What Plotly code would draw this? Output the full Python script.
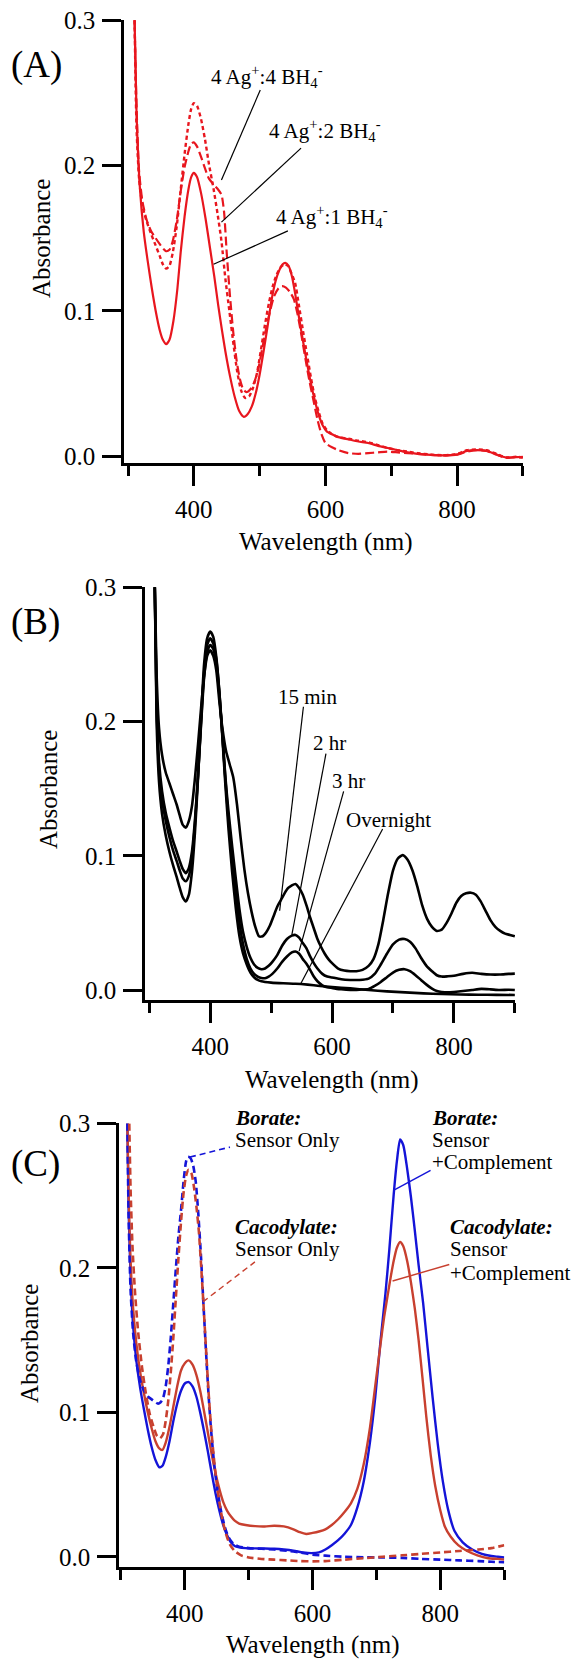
import plotly.graph_objects as go

# ---------------- data ----------------
# Panel A : silver / borohydride ratios (red)
A1_wl = [310, 313, 318, 324, 330, 336, 342, 348, 353, 358, 363, 369, 375, 380, 386, 392, 396, 400, 405, 411,
         418, 425, 431, 437, 443, 448, 455, 462, 469, 476, 482, 488, 494, 500, 506, 512, 518, 524, 530, 535,
         539, 544, 549, 554, 560, 566, 572, 578, 584, 590, 596, 602, 610, 620, 635, 650, 665, 680, 695, 710,
         725, 740, 760, 780, 800, 815, 830, 845, 860, 875, 890, 900]
A1_abs = [0.300, 0.235, 0.185, 0.154, 0.134, 0.116, 0.100, 0.087, 0.080, 0.077, 0.080, 0.093, 0.115, 0.140,
          0.165, 0.184, 0.192, 0.195, 0.192, 0.181, 0.163, 0.142, 0.124, 0.104, 0.086, 0.072, 0.055, 0.041,
          0.031, 0.027, 0.029, 0.034, 0.043, 0.056, 0.072, 0.089, 0.107, 0.120, 0.128, 0.132, 0.133, 0.131,
          0.124, 0.112, 0.095, 0.079, 0.064, 0.050, 0.038, 0.028, 0.021, 0.017, 0.015, 0.013, 0.0115, 0.010,
          0.009, 0.007, 0.0055, 0.004, 0.0025, 0.0015, 0.0008, 0.0005, 0.001, 0.0035, 0.004, 0.0035, 0.001,
          -0.001, -0.0008, -0.0005]

A2_wl = [310, 313, 317, 322, 328, 335, 342, 348, 353, 358, 363, 368, 374, 380, 386, 392, 396, 400, 405, 411,
         417, 423, 430, 436, 442, 448, 454, 460, 466, 472, 478, 484, 490, 496, 502, 508, 514, 520, 526, 532,
         538, 543, 549, 554, 560, 566, 572, 578, 584, 590, 596, 602, 610, 620, 635, 650, 665, 680, 695, 710,
         725, 740, 760, 780, 800, 815, 830, 845, 860, 875, 890, 900]
A2_abs = [0.300, 0.225, 0.190, 0.172, 0.162, 0.153, 0.145, 0.138, 0.132, 0.129, 0.131, 0.140, 0.158, 0.183,
          0.208, 0.229, 0.239, 0.243, 0.241, 0.232, 0.218, 0.201, 0.184, 0.167, 0.148, 0.122, 0.100, 0.078,
          0.058, 0.045, 0.040, 0.041, 0.047, 0.057, 0.073, 0.090, 0.105, 0.117, 0.125, 0.130, 0.132, 0.131,
          0.125, 0.119, 0.103, 0.086, 0.070, 0.054, 0.040, 0.030, 0.022, 0.018, 0.015, 0.013, 0.012, 0.0105,
          0.0095, 0.0075, 0.0055, 0.004, 0.003, 0.002, 0.001, 0.0005, 0.0015, 0.004, 0.0045, 0.004, 0.0015,
          -0.001, -0.0005, -0.001]

A4_wl = [310, 313, 317, 322, 328, 335, 342, 348, 353, 358, 363, 368, 374, 380, 386, 392, 396, 400, 405, 411,
         417, 423, 430, 436, 442, 446, 450, 455, 460, 465, 470, 475, 480, 486, 492, 498, 504, 510, 516, 522,
         528, 534, 540, 546, 552, 558, 564, 570, 576, 582, 588, 594, 600, 610, 620, 635, 650, 665, 680, 695,
         710, 725, 740, 760, 780, 800, 815, 830, 845, 860, 875, 890, 900]
A4_abs = [0.300, 0.240, 0.195, 0.175, 0.163, 0.155, 0.150, 0.146, 0.143, 0.141, 0.142, 0.148, 0.162, 0.182,
          0.199, 0.210, 0.215, 0.216, 0.213, 0.206, 0.198, 0.191, 0.187, 0.184, 0.180, 0.168, 0.140, 0.110,
          0.085, 0.066, 0.053, 0.046, 0.044, 0.046, 0.051, 0.060, 0.074, 0.088, 0.100, 0.110, 0.115, 0.117,
          0.116, 0.113, 0.108, 0.097, 0.082, 0.066, 0.051, 0.038, 0.025, 0.015, 0.009, 0.006, 0.004, 0.002,
          0.0015, 0.002, 0.0025, 0.003, 0.0025, 0.002, 0.0015, 0.0008, 0.0005, 0.001, 0.003, 0.004, 0.0035,
          0.001, -0.0012, -0.0008, -0.001]

# Panel B : time course (black)
B15_wl = [309, 312, 316, 321, 327, 333, 339, 345, 350, 355, 360, 365, 370, 375, 380, 385, 390, 395, 400, 405,
          410, 415, 420, 426, 432, 438, 444, 450, 456, 462, 468, 474, 480, 486, 492, 498, 504, 510, 516, 522,
          528, 534, 540, 546, 552, 558, 564, 570, 576, 582, 588, 594, 600, 610, 620, 630, 640, 650, 660, 668,
          676, 684, 692, 700, 708, 716, 724, 732, 740, 748, 756, 764, 772, 780, 788, 796, 804, 812, 820, 828,
          836, 844, 852, 860, 868, 876, 884, 892, 900]
B15_abs = [0.300, 0.235, 0.195, 0.175, 0.162, 0.154, 0.146, 0.138, 0.130, 0.123, 0.121, 0.126, 0.137, 0.158,
           0.183, 0.210, 0.234, 0.249, 0.253, 0.249, 0.238, 0.215, 0.195, 0.178, 0.168, 0.158, 0.138, 0.113,
           0.090, 0.072, 0.058, 0.047, 0.040, 0.040, 0.043, 0.048, 0.055, 0.062, 0.067, 0.072, 0.076, 0.078,
           0.079, 0.076, 0.071, 0.063, 0.054, 0.046, 0.038, 0.032, 0.027, 0.023, 0.020, 0.016, 0.0145, 0.014,
           0.014, 0.015, 0.018, 0.023, 0.034, 0.052, 0.072, 0.089, 0.098, 0.1005, 0.097, 0.089, 0.077, 0.063,
           0.053, 0.047, 0.044, 0.045, 0.050, 0.057, 0.065, 0.070, 0.072, 0.0725, 0.071, 0.066, 0.059, 0.052,
           0.047, 0.044, 0.042, 0.041, 0.040]

B2_wl = [309, 312, 316, 321, 327, 333, 339, 345, 350, 355, 360, 365, 370, 375, 380, 385, 390, 395, 400, 405,
         410, 415, 420, 425, 430, 436, 442, 448, 454, 460, 466, 472, 478, 484, 490, 496, 502, 510, 518, 526,
         534, 540, 546, 552, 558, 564, 570, 576, 584, 592, 600, 615, 630, 645, 660, 670, 680, 690, 700, 710,
         719, 728, 737, 746, 755, 764, 772, 780, 790, 800, 815, 830, 845, 860, 875, 890, 900]
B2_abs = [0.300, 0.215, 0.170, 0.148, 0.132, 0.121, 0.111, 0.103, 0.096, 0.090, 0.087, 0.091, 0.103, 0.127,
          0.160, 0.198, 0.233, 0.252, 0.257, 0.254, 0.243, 0.220, 0.190, 0.158, 0.133, 0.107, 0.083, 0.060,
          0.043, 0.032, 0.024, 0.019, 0.0165, 0.0155, 0.016, 0.018, 0.021, 0.026, 0.033, 0.038, 0.0405, 0.041,
          0.039, 0.035, 0.031, 0.025, 0.020, 0.016, 0.012, 0.010, 0.0093, 0.008, 0.0075, 0.0075, 0.0085, 0.012,
          0.019, 0.027, 0.034, 0.0375, 0.038, 0.036, 0.031, 0.024, 0.018, 0.014, 0.011, 0.010, 0.0102, 0.0106,
          0.012, 0.0128, 0.012, 0.0115, 0.0115, 0.012, 0.0122]

B3_wl = [309, 312, 316, 321, 327, 333, 339, 345, 350, 355, 360, 365, 370, 375, 380, 385, 390, 395, 400, 405,
         410, 415, 420, 425, 430, 436, 442, 448, 454, 460, 466, 472, 478, 484, 490, 496, 502, 510, 518, 526,
         534, 540, 546, 552, 558, 564, 570, 576, 584, 592, 600, 615, 630, 645, 660, 670, 680, 690, 700, 710,
         719, 728, 737, 746, 755, 764, 772, 780, 790, 800, 815, 830, 845, 860, 875, 890, 900]
B3_abs = [0.300, 0.210, 0.165, 0.142, 0.126, 0.114, 0.104, 0.096, 0.089, 0.083, 0.081, 0.085, 0.098, 0.124,
          0.160, 0.200, 0.237, 0.257, 0.262, 0.258, 0.246, 0.222, 0.190, 0.156, 0.127, 0.098, 0.072, 0.050,
          0.034, 0.023, 0.016, 0.012, 0.010, 0.009, 0.0088, 0.010, 0.012, 0.016, 0.021, 0.025, 0.028, 0.0287,
          0.027, 0.023, 0.0195, 0.015, 0.010, 0.0065, 0.0035, 0.002, 0.0015, 0.0005, 0.0, 0.0003, 0.0008, 0.003,
          0.006, 0.0095, 0.013, 0.015, 0.0155, 0.014, 0.011, 0.0075, 0.004, 0.001, -0.0008, -0.0015, -0.0018,
          -0.0015, -0.0008, 0.0, 0.0008, 0.0005, 0.0, 0.0002, 0.0]

BN_wl = [309, 312, 316, 321, 327, 333, 339, 345, 350, 355, 360, 365, 370, 375, 380, 385, 390, 395, 400, 405,
         410, 415, 420, 425, 430, 436, 442, 448, 454, 460, 466, 472, 478, 484, 490, 500, 520, 540, 560, 580,
         600, 630, 660, 690, 720, 750, 780, 810, 840, 870, 900]
BN_abs = [0.300, 0.200, 0.155, 0.131, 0.115, 0.103, 0.093, 0.084, 0.076, 0.069, 0.066, 0.071, 0.088, 0.118,
          0.158, 0.203, 0.243, 0.262, 0.267, 0.263, 0.248, 0.222, 0.188, 0.152, 0.120, 0.088, 0.061, 0.040,
          0.027, 0.019, 0.013, 0.0095, 0.0075, 0.0065, 0.006, 0.0055, 0.005, 0.0047, 0.004, 0.003, 0.0022,
          0.0012, 0.0, -0.001, -0.0018, -0.0025, -0.003, -0.0033, -0.0035, -0.0036, -0.0037]

# Panel C : buffers (blue = borate, red = cacodylate)
CBs_wl = [310, 312, 315, 319, 324, 330, 336, 342, 348, 354, 360, 365, 370, 376, 382, 388, 394, 400, 406, 412,
          418, 424, 430, 436, 442, 448, 454, 460, 466, 472, 478, 485, 495, 510, 525, 540, 555, 570, 585, 598,
          610, 620, 630, 640, 650, 660, 670, 680, 690, 698, 706, 714, 720, 727, 732, 737, 742, 748, 754, 760,
          766, 773, 780, 788, 796, 804, 812, 822, 835, 850, 865, 880, 890, 900]
CBs_abs = [0.300, 0.240, 0.195, 0.160, 0.136, 0.117, 0.102, 0.088, 0.076, 0.067, 0.062, 0.063, 0.069, 0.080,
           0.094, 0.106, 0.115, 0.120, 0.121, 0.118, 0.111, 0.100, 0.087, 0.073, 0.058, 0.044, 0.032, 0.022,
           0.015, 0.010, 0.0075, 0.0065, 0.006, 0.0058, 0.0057, 0.0055, 0.005, 0.0042, 0.003, 0.0025, 0.003,
           0.005, 0.008, 0.0115, 0.016, 0.022, 0.034, 0.052, 0.080, 0.110, 0.148, 0.182, 0.212, 0.251, 0.274,
           0.289, 0.285, 0.269, 0.249, 0.226, 0.202, 0.176, 0.145, 0.110, 0.078, 0.052, 0.033, 0.018, 0.010,
           0.005, 0.002, 0.0005, 0.0, -0.0005]

CCs_wl = [310, 312, 315, 319, 324, 330, 336, 342, 348, 354, 360, 365, 370, 376, 382, 388, 394, 400, 406, 412,
          418, 424, 430, 436, 442, 448, 454, 460, 466, 472, 478, 485, 495, 510, 525, 540, 555, 570, 580, 590,
          600, 610, 620, 630, 640, 650, 660, 670, 680, 690, 698, 706, 712, 716, 722, 727, 732, 737, 742, 748,
          754, 760, 766, 772, 778, 785, 792, 800, 807, 816, 828, 842, 858, 875, 890, 900]
CCs_abs = [0.300, 0.250, 0.205, 0.172, 0.148, 0.128, 0.113, 0.100, 0.089, 0.080, 0.075, 0.074, 0.079, 0.090,
           0.104, 0.118, 0.129, 0.134, 0.136, 0.133, 0.126, 0.115, 0.101, 0.086, 0.071, 0.058, 0.047, 0.038,
           0.032, 0.028, 0.025, 0.023, 0.022, 0.0212, 0.021, 0.0215, 0.021, 0.019, 0.017, 0.0158, 0.0165,
           0.0175, 0.019, 0.022, 0.026, 0.031, 0.037, 0.047, 0.064, 0.090, 0.118, 0.146, 0.166, 0.177, 0.193,
           0.205, 0.214, 0.218, 0.215, 0.205, 0.190, 0.172, 0.150, 0.124, 0.097, 0.070, 0.049, 0.032, 0.021,
           0.014, 0.008, 0.004, 0.001, -0.001, -0.0015, -0.002]

CBo_wl = [310, 312, 315, 319, 324, 330, 336, 342, 348, 354, 358, 362, 366, 370, 374, 378, 382, 386, 390, 394,
          398, 402, 405, 409, 413, 417, 421, 425, 429, 433, 437, 441, 446, 451, 457, 463, 469, 476, 485, 500,
          520, 540, 560, 580, 600, 620, 650, 680, 710, 740, 770, 800, 830, 860, 880, 900]
CBo_abs = [0.300, 0.235, 0.185, 0.155, 0.135, 0.122, 0.115, 0.111, 0.109, 0.107, 0.106, 0.107, 0.110, 0.118,
           0.132, 0.152, 0.176, 0.200, 0.222, 0.240, 0.260, 0.274, 0.277, 0.276, 0.271, 0.260, 0.238, 0.210,
           0.176, 0.143, 0.113, 0.088, 0.064, 0.046, 0.031, 0.020, 0.013, 0.009, 0.007, 0.006, 0.0055, 0.005,
           0.0042, 0.003, 0.0015, 0.0008, 0.0, -0.0003, -0.0005, -0.0008, -0.0015, -0.002, -0.0025, -0.003,
           -0.0035, -0.0038]

CCo_wl = [313, 315, 318, 322, 327, 333, 339, 345, 351, 356, 361, 366, 370, 374, 378, 382, 386, 390, 394, 398,
          402, 406, 410, 414, 418, 422, 425, 429, 433, 437, 441, 446, 451, 457, 463, 470, 478, 488, 500, 520,
          540, 560, 580, 600, 620, 650, 680, 710, 740, 770, 800, 830, 860, 880, 900]
CCo_abs = [0.300, 0.255, 0.215, 0.183, 0.155, 0.131, 0.113, 0.099, 0.090, 0.084, 0.082, 0.085, 0.094, 0.108,
           0.128, 0.152, 0.180, 0.207, 0.232, 0.252, 0.264, 0.268, 0.266, 0.257, 0.243, 0.225, 0.205, 0.176,
           0.145, 0.115, 0.090, 0.066, 0.047, 0.030, 0.018, 0.009, 0.004, 0.001, -0.0005, -0.0015, -0.002,
           -0.0025, -0.003, -0.0032, -0.003, -0.002, -0.001, 0.0, 0.001, 0.002, 0.003, 0.004, 0.005, 0.006,
           0.008]

# tick labels
x_major = [400, 600, 800]
x_major_text = ["400", "600", "800"]
y_ticks = [0.0, 0.1, 0.2, 0.3]
y_tick_text = ["0.0", "0.1", "0.2", "0.3"]

# annotation texts (label, x, y) in data units of each panel
A_labels = [("4 Ag<sup>+</sup>:4 BH<sub>4</sub><sup>-</sup>", 425, 0.261),
            ("4 Ag<sup>+</sup>:2 BH<sub>4</sub><sup>-</sup>", 512, 0.224),
            ("4 Ag<sup>+</sup>:1 BH<sub>4</sub><sup>-</sup>", 523, 0.165)]
A_leaders = [(442, 0.190, 501, 0.252), (442, 0.161, 563, 0.212), (430, 0.132, 543, 0.155)]
B_labels = [("15 min", 509, 0.218), ("2 hr", 567, 0.184), ("3 hr", 598, 0.156), ("Overnight", 622, 0.127)]
B_leaders = [(514, 0.059, 553, 0.211), (534, 0.041, 590, 0.176), (546, 0.029, 619, 0.148),
             (549, 0.005, 683, 0.120)]
C_labels = [("<b><i>Borate:</i></b>", 477, 0.3038), ("Sensor Only", 477, 0.2884),
            ("<b><i>Cacodylate:</i></b>", 477, 0.2284), ("Sensor Only", 477, 0.2129),
            ("<b><i>Borate:</i></b>", 785, 0.3038), ("Sensor", 785, 0.2889), ("+Complement", 785, 0.2734),
            ("<b><i>Cacodylate:</i></b>", 814, 0.2284), ("Sensor", 814, 0.2129), ("+Complement", 814, 0.1965)]
C_leaders = [(408, 0.2768, 470.6, 0.2837), (428.3, 0.1765, 509.7, 0.2042),
             (728.8, 0.2543, 784.7, 0.2676), (725.2, 0.191, 814, 0.2024)]

# ---------------- layout geometry (pixels of the 579x1662 page) ----------------
PAGE_W, PAGE_H = 579, 1662
OFF = 8                      # default body margin of the html page
W, H = PAGE_W - OFF, PAGE_H - OFF
panels = {
    # name: (left px, right px, top px, bottom px, xmin, ymin)
    "A": (124, 523, 20, 463, 293.9, -0.0048),
    "B": (145, 515, 587, 1000, 292.95, -0.00745),
    "C": (119, 504.4, 1123.3, 1567.3, 296.9, -0.0073),
}
XMAX, YMAX = 900.3, 0.3002

FONT = "Liberation Serif"
RED = "#e8161e"
BLUE = "#1414d8"
BRED = "#c8402f"

fig = go.Figure()

def add(x, y, ax, color, dash="solid", width=2.2):
    fig.add_trace(go.Scatter(x=x, y=y, mode="lines", xaxis="x" + ax, yaxis="y" + ax,
                             line=dict(color=color, width=width, dash=dash, shape="spline", smoothing=0.6),
                             showlegend=False, hoverinfo="skip"))

# A
add(A1_wl, A1_abs, "", RED, "solid", 2.2)
add(A2_wl, A2_abs, "", RED, "4px,3px", 2.4)
add(A4_wl, A4_abs, "", RED, "9px,4px", 2.2)
# B
for wl, ab in [(B15_wl, B15_abs), (B2_wl, B2_abs), (B3_wl, B3_abs), (BN_wl, BN_abs)]:
    add(wl, ab, "2", "black", "solid", 2.6)
# C
add(CBs_wl, CBs_abs, "3", BLUE, "solid", 2.4)
add(CCs_wl, CCs_abs, "3", BRED, "solid", 2.4)
add(CBo_wl, CBo_abs, "3", BLUE, "7px,4px", 2.6)
add(CCo_wl, CCo_abs, "3", BRED, "7px,4px", 2.6)

tickfont = dict(family=FONT, size=25, color="black")

def px2paper(px, py):
    return (px - OFF) / W, 1 - (py - OFF) / H

def axes(name):
    l, r, t, b, xmin, ymin = panels[name]
    x0, y0 = px2paper(l, b)
    x1, y1 = px2paper(r, t)
    xa = dict(domain=[x0, x1], range=[xmin, XMAX], showgrid=False, zeroline=False, showline=True,
              automargin=False, ticklabeloverflow="allow",
              linecolor="black", linewidth=2.6, ticks="outside", ticklen=20, tickwidth=2.6,
              tickcolor="black", tickvals=x_major, ticktext=x_major_text, tickfont=tickfont,
              ticklabelstandoff=2,
              minor=dict(tickmode="linear", tick0=300, dtick=100, ticks="outside", ticklen=10,
                         tickwidth=2.6, tickcolor="black", showgrid=False))
    ya = dict(domain=[y0, y1], range=[ymin, YMAX], showgrid=False, zeroline=False, showline=True,
              automargin=False, ticklabeloverflow="allow",
              linecolor="black", linewidth=2.6, ticks="outside", ticklen=19, tickwidth=2.6,
              tickcolor="black", tickvals=y_ticks, ticktext=y_tick_text, tickfont=tickfont,
              ticklabelstandoff=2)
    return xa, ya

def to_paper(name, x, y):
    l, r, t, b, xmin, ymin = panels[name]
    px = l + (x - xmin) / (XMAX - xmin) * (r - l)
    py = b - (y - ymin) / (YMAX - ymin) * (b - t)
    return px2paper(px, py)

xa, ya = axes("A")
xa2, ya2 = axes("B")
xa3, ya3 = axes("C")
ya["anchor"] = "x"; xa["anchor"] = "y"
ya2["anchor"] = "x2"; xa2["anchor"] = "y2"
ya3["anchor"] = "x3"; xa3["anchor"] = "y3"

annotations = []
shapes = []

def paper(px, py, text, size, xanchor="center", yanchor="middle", angle=0):
    x, y = px2paper(px, py)
    annotations.append(dict(xref="paper", yref="paper", x=x, y=y, text=text,
                            showarrow=False, xanchor=xanchor, yanchor=yanchor, textangle=angle,
                            font=dict(family=FONT, size=size, color="black")))

# axis titles & panel labels
paper(326, 542, "Wavelength (nm)", 25)
paper(332, 1080, "Wavelength (nm)", 25)
paper(313, 1645, "Wavelength (nm)", 25)
paper(41, 239, "Absorbance", 25, angle=-90)
paper(48, 790, "Absorbance", 25, angle=-90)
paper(29, 1344, "Absorbance", 25, angle=-90)
paper(36, 65, "(A)", 37)
paper(35, 622, "(B)", 37)
paper(35, 1164, "(C)", 37)

def data_text(name, x, y, text, size=21):
    px, py = to_paper(name, x, y)
    annotations.append(dict(xref="paper", yref="paper", x=px, y=py, text=text, showarrow=False,
                            xanchor="left", yanchor="middle", borderpad=0,
                            font=dict(family=FONT, size=size, color="black")))

def leader(ax, x0, y0, x1, y1, color="black", width=1.2, dash="solid"):
    shapes.append(dict(type="line", xref="x" + ax, yref="y" + ax, x0=x0, y0=y0, x1=x1, y1=y1,
                       line=dict(color=color, width=width, dash=dash)))

for t, x, y in A_labels:
    data_text("A", x, y, t)
for x0, y0, x1, y1 in A_leaders:
    leader("", x0, y0, x1, y1)
for t, x, y in B_labels:
    data_text("B", x, y, t)
for x0, y0, x1, y1 in B_leaders:
    leader("2", x0, y0, x1, y1)
for t, x, y in C_labels:
    data_text("C", x, y, t)
c_styles = [(BLUE, 1.6, "6px,4px"), (BRED, 1.4, "6px,4px"), (BLUE, 1.4, "solid"), (BRED, 1.4, "solid")]
for (x0, y0, x1, y1), (col, wd, ds) in zip(C_leaders, c_styles):
    leader("3", x0, y0, x1, y1, col, wd, ds)

fig.update_layout(
    width=W, height=H, margin=dict(l=0, r=0, t=0, b=0, pad=0),
    paper_bgcolor="white", plot_bgcolor="white",
    xaxis=xa, yaxis=ya, xaxis2=xa2, yaxis2=ya2, xaxis3=xa3, yaxis3=ya3,
    annotations=annotations, shapes=shapes, showlegend=False,
    font=dict(family=FONT, color="black"),
)

fig.write_html("out.html")
